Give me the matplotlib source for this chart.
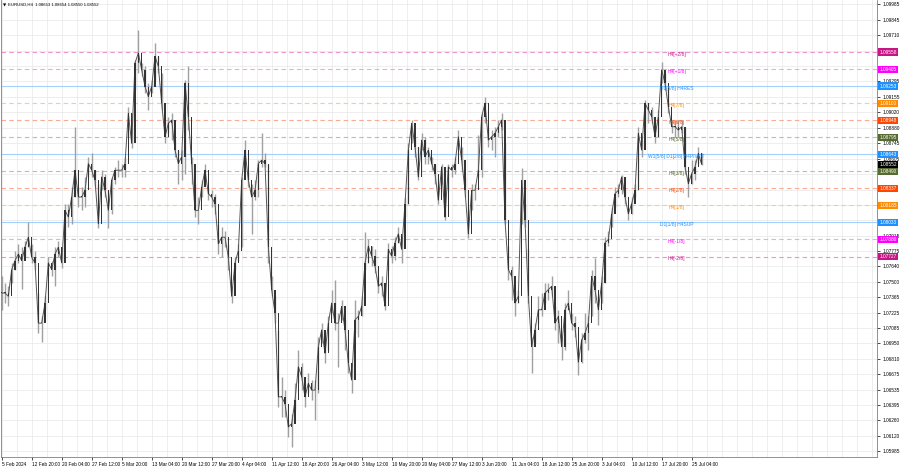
import numpy as np
import matplotlib
matplotlib.use("Agg")
import matplotlib.pyplot as plt
import matplotlib.transforms as mtransforms

plt.rcParams['font.family'] = ['Liberation Sans', 'DejaVu Sans']

# EURUSD H4 (one drawn candle ~ 3.5 H4 bars)
close = [
    1.0740, 1.0740, 1.0737, 1.0761, 1.0769, 1.0775, 1.0769, 1.0781, 1.0790, 1.0772,
    1.0767, 1.0713, 1.0713, 1.0731, 1.0767, 1.0761, 1.0775, 1.0781, 1.0767, 1.0814,
    1.0808, 1.0826, 1.0850, 1.0826, 1.0826, 1.0832, 1.0856, 1.0850, 1.0841, 1.0802,
    1.0844, 1.0832, 1.0814, 1.0841, 1.0850, 1.0850, 1.0850, 1.0856, 1.0901, 1.0874,
    1.0946, 1.0955, 1.0940, 1.0925, 1.0916, 1.0925, 1.0952, 1.0943, 1.0910, 1.0880,
    1.0892, 1.0895, 1.0868, 1.0856, 1.0862, 1.0928, 1.0898, 1.0856, 1.0814, 1.0814,
    1.0835, 1.0850, 1.0829, 1.0826, 1.0820, 1.0784, 1.0790, 1.0790, 1.0772, 1.0737,
    1.0767, 1.0778, 1.0841, 1.0868, 1.0841, 1.0826, 1.0832, 1.0856, 1.0859, 1.0856,
    1.0781, 1.0743, 1.0722, 1.0647, 1.0647, 1.0641, 1.0620, 1.0623, 1.0644, 1.0674,
    1.0665, 1.0647, 1.0659, 1.0653, 1.0653, 1.0692, 1.0707, 1.0686, 1.0713, 1.0731,
    1.0713, 1.0713, 1.0728, 1.0707, 1.0677, 1.0662, 1.0716, 1.0719, 1.0728,
    1.0767, 1.0782, 1.0773, 1.0764, 1.0746, 1.0749, 1.0728, 1.0779, 1.0773, 1.0785,
    1.0793, 1.0779, 1.0820, 1.0868, 1.0892, 1.0871, 1.0844, 1.0877, 1.0862, 1.0868,
    1.0856, 1.0847, 1.0823, 1.0853, 1.0808, 1.0853, 1.0850, 1.0856, 1.0880, 1.0859,
    1.0832, 1.0793, 1.0832, 1.0832, 1.0850, 1.0898, 1.0910, 1.0877, 1.0880, 1.0883,
    1.0889, 1.0895, 1.0805, 1.0761, 1.0755, 1.0731, 1.0737, 1.0841, 1.0805, 1.0737,
    1.0692, 1.0707, 1.0725, 1.0725, 1.0740, 1.0743, 1.0746, 1.0713, 1.0719, 1.0692,
    1.0725, 1.0731, 1.0713, 1.0710, 1.0678, 1.0698, 1.0704, 1.0713, 1.0755, 1.0743,
    1.0725, 1.0749, 1.0785, 1.0788, 1.0811, 1.0829, 1.0832, 1.0844, 1.0826, 1.0811,
    1.0820, 1.0832, 1.0883, 1.0868, 1.0910, 1.0904, 1.0898, 1.0880, 1.0898, 1.0940,
    1.0928, 1.0907, 1.0889, 1.0889, 1.0886, 1.0889, 1.0853, 1.0838, 1.0847, 1.0853,
    1.0865, 1.08552,
]
high = [
    1.0755, 1.0749, 1.0746, 1.0767, 1.0778, 1.0784, 1.0781, 1.0787, 1.0804, 1.0784,
    1.0778, 1.0740, 1.0719, 1.0737, 1.0772, 1.0769, 1.0781, 1.0787, 1.0781, 1.0820,
    1.0820, 1.0835, 1.0889, 1.0835, 1.0835, 1.0844, 1.0862, 1.0865, 1.0850, 1.0838,
    1.0850, 1.0847, 1.0823, 1.0844, 1.0853, 1.0859, 1.0856, 1.0862, 1.0907, 1.0901,
    1.0949, 1.0976, 1.0946, 1.0943, 1.0928, 1.0931, 1.0964, 1.0952, 1.0937, 1.0895,
    1.0898, 1.0901, 1.0877, 1.0868, 1.0868, 1.0931, 1.0943, 1.0862, 1.0838, 1.0826,
    1.0841, 1.0856, 1.0835, 1.0832, 1.0829, 1.0802, 1.0799, 1.0796, 1.0784, 1.0746,
    1.0772, 1.0784, 1.0844, 1.0877, 1.0850, 1.0838, 1.0841, 1.0859, 1.0883, 1.0865,
    1.0856, 1.0755, 1.0737, 1.0707, 1.0665, 1.0653, 1.0626, 1.0632, 1.0659, 1.0689,
    1.0677, 1.0659, 1.0668, 1.0662, 1.0662, 1.0701, 1.0713, 1.0698, 1.0719, 1.0743,
    1.0752, 1.0722, 1.0734, 1.0716, 1.0689, 1.0677, 1.0734, 1.0725, 1.0737,
    1.0795, 1.0788, 1.0782, 1.0779, 1.0755, 1.0755, 1.0749, 1.0785, 1.0782, 1.0790,
    1.0799, 1.0790, 1.0826, 1.0874, 1.0895, 1.0880, 1.0871, 1.0883, 1.0880, 1.0871,
    1.0862, 1.0856, 1.0838, 1.0856, 1.0823, 1.0856, 1.0856, 1.0862, 1.0886, 1.0871,
    1.0844, 1.0814, 1.0838, 1.0838, 1.0882, 1.0901, 1.0916, 1.0889, 1.0886, 1.0889,
    1.0895, 1.0901, 1.0874, 1.0782, 1.0764, 1.0743, 1.0743, 1.0852, 1.0820, 1.0779,
    1.0701, 1.0713, 1.0737, 1.0740, 1.0749, 1.0749, 1.0755, 1.0728, 1.0725, 1.0701,
    1.0731, 1.0743, 1.0722, 1.0719, 1.0692, 1.0704, 1.0722, 1.0719, 1.0761, 1.0771,
    1.0737, 1.0755, 1.0790, 1.0796, 1.0817, 1.0835, 1.0838, 1.0846, 1.0832, 1.0817,
    1.0826, 1.0838, 1.0889, 1.0877, 1.0913, 1.0910, 1.0907, 1.0892, 1.0904, 1.0947,
    1.0937, 1.0925, 1.0895, 1.0895, 1.0895, 1.0895, 1.0889, 1.0847, 1.0859, 1.0859,
    1.0871, 1.08654,
]
low = [
    1.0725, 1.0731, 1.0728, 1.0749, 1.0761, 1.0767, 1.0744, 1.0772, 1.0781, 1.0767,
    1.0761, 1.0704, 1.0696, 1.0725, 1.0755, 1.0755, 1.0746, 1.0772, 1.0762, 1.0790,
    1.0799, 1.0802, 1.0826, 1.0817, 1.0814, 1.0817, 1.0844, 1.0844, 1.0835, 1.0798,
    1.0832, 1.0826, 1.0798, 1.0811, 1.0838, 1.0844, 1.0844, 1.0844, 1.0880, 1.0870,
    1.0922, 1.0937, 1.0934, 1.0919, 1.0904, 1.0919, 1.0931, 1.0937, 1.0904, 1.0874,
    1.0883, 1.0877, 1.0862, 1.0838, 1.0841, 1.0847, 1.0886, 1.0838, 1.0808, 1.0802,
    1.0826, 1.0838, 1.0823, 1.0817, 1.0811, 1.0775, 1.0772, 1.0781, 1.0761, 1.0731,
    1.0761, 1.0769, 1.0781, 1.0850, 1.0835, 1.0793, 1.0823, 1.0826, 1.0853, 1.0853,
    1.0767, 1.0737, 1.0713, 1.0638, 1.0629, 1.0629, 1.0611, 1.0602, 1.0635, 1.0659,
    1.0653, 1.0638, 1.0650, 1.0644, 1.0626, 1.0650, 1.0695, 1.0677, 1.0689, 1.0722,
    1.0707, 1.0674, 1.0716, 1.0689, 1.0668, 1.0650, 1.0704, 1.0701, 1.0719,
    1.0761, 1.0767, 1.0764, 1.0758, 1.0740, 1.0737, 1.0725, 1.0761, 1.0767, 1.0770,
    1.0785, 1.0767, 1.0808, 1.0820, 1.0874, 1.0862, 1.0841, 1.0868, 1.0856, 1.0856,
    1.0850, 1.0838, 1.0820, 1.0838, 1.0805, 1.0832, 1.0844, 1.0847, 1.0868, 1.0850,
    1.0826, 1.0789, 1.0814, 1.0823, 1.0844, 1.0844, 1.0892, 1.0871, 1.0868, 1.0862,
    1.0880, 1.0886, 1.0802, 1.0752, 1.0734, 1.0719, 1.0731, 1.0802, 1.0799, 1.0731,
    1.0668, 1.0695, 1.0713, 1.0719, 1.0731, 1.0734, 1.0737, 1.0707, 1.0695, 1.0680,
    1.0689, 1.0725, 1.0707, 1.0701, 1.0667, 1.0677, 1.0695, 1.0689, 1.0719, 1.0731,
    1.0711, 1.0731, 1.0749, 1.0782, 1.0799, 1.0817, 1.0826, 1.0829, 1.0820, 1.0805,
    1.0811, 1.0826, 1.0832, 1.0862, 1.0889, 1.0892, 1.0892, 1.0874, 1.0880, 1.0928,
    1.0922, 1.0901, 1.0883, 1.0880, 1.0880, 1.0883, 1.0847, 1.0826, 1.0838, 1.0841,
    1.0856, 1.08550,
]

date_labels = ["5 Feb 2024", "12 Feb 20:00", "20 Feb 04:00", "27 Feb 12:00", "5 Mar 20:00",
               "13 Mar 04:00", "20 Mar 12:00", "27 Mar 20:00", "4 Apr 04:00", "11 Apr 12:00",
               "18 Apr 20:00", "26 Apr 04:00", "3 May 12:00", "10 May 20:00", "20 May 04:00",
               "27 May 12:00", "3 Jun 20:00", "11 Jun 04:00", "18 Jun 12:00", "25 Jun 20:00",
               "3 Jul 04:00", "10 Jul 12:00", "17 Jul 20:00", "25 Jul 04:00"]

price_labels = ["1.09985", "1.09845", "1.09710", "1.09570", "1.09435", "1.09295", "1.09155",
                "1.09020", "1.08880", "1.08745", "1.08605", "1.08465", "1.08325", "1.08190",
                "1.08050", "1.07915", "1.07775", "1.07640", "1.07500", "1.07365", "1.07225",
                "1.07085", "1.06950", "1.06810", "1.06675", "1.06535", "1.06395", "1.06260",
                "1.06120", "1.05985"]

# murrey math levels: name, price, line colour, tag colour, dashed?
level_names = ["H4[+2/8]", "H4[+1/8]", "D1[5/8] H4RES", "H4[7/8]", "H4[6/8]", "H4[5/8]",
               "W1[5/8] D1[2/8] H4PIVOT", "H4[3/8]", "H4[2/8]", "H4[1/8]", "D1[1/8] H4SUP",
               "H4[-1/8]", "H4[-2/8]"]
level_prices = [1.09558, 1.09405, 1.09253, 1.09100, 1.08948, 1.08795, 1.08643,
                1.08490, 1.08337, 1.08185, 1.08033, 1.07880, 1.07727]
level_tag_colors = ["#c71585", "#ff00ff", "#1e90ff", "#ff8c00", "#ff4500", "#556b2f", "#1e90ff",
                    "#556b2f", "#ff4500", "#ff8c00", "#1e90ff", "#ff00ff", "#c71585"]
level_line_colors = ["#e996cf", "#f6a0f6", "#a3d0ff", "#fcc996", "#f9ab95", "#bdbdab", "#a3d0ff",
                     "#bdbdab", "#f9ab95", "#fcc996", "#a3d0ff", "#f6a0f6", "#e996cf"]
level_dashed = [True, True, False, True, True, True, False, True, True, True, False, True, True]

last_price = 1.08552
header = "EURUSD,H4  1.08653 1.08654 1.08550 1.08552"

fig = plt.figure(figsize=(9, 4.68), dpi=100)
ax = fig.add_axes([1 / 900, 11 / 468, 876 / 900, 457 / 468])

n = len(close)
idx = np.arange(n)
opens = [close[0]] + close[:-1]

# grid
ytick_vals = [float(s) for s in price_labels]
xtick_pos = 0.2 + 9 * np.arange(len(date_labels))
for y in ytick_vals:
    ax.axhline(y, color="#e8e8e8", lw=0.5, zorder=0)
for x in np.arange(0.2, 263, 4.5):
    ax.axvline(x, color="#e8e8e8", lw=0.5, zorder=0)

# levels
for name, p, lc, tc, d in zip(level_names, level_prices, level_line_colors,
                              level_tag_colors, level_dashed):
    ax.axhline(p, color=lc, lw=0.8, ls=(0, (4, 3)) if d else "-", zorder=1)
    ax.text(202.5, p - 0.00018, name, color=tc, fontsize=3.5, ha="center", va="center", zorder=4)

# candles: grey wicks, thin dark bodies, closes joined so it reads like the dense H4 band
ax.vlines(idx, low, high, color="#a0a0a0", lw=1.0, zorder=2)
ax.plot(idx, close, color="#555555", lw=0.7, zorder=2.5)
body_bot = np.minimum(opens, close)
body_h = np.maximum(np.abs(np.array(close) - np.array(opens)), 0.00005)
ax.bar(idx, body_h, bottom=body_bot, width=0.45, color="#333333", lw=0, zorder=3)

ax.set_xlim(-0.2, 262.6)
ax.set_ylim(1.05931, 1.10025)

# tick labels that sit under a price tag are not shown
tag_prices = level_prices + [last_price]
shown = [s if min(abs(v - t) for t in tag_prices) > 0.00032 else ""
         for s, v in zip(price_labels, ytick_vals)]

ax.yaxis.tick_right()
ax.set_yticks(ytick_vals)
ax.set_yticklabels(shown, fontsize=3.4)
ax.set_xticks(xtick_pos)
ax.set_xticklabels(date_labels, fontsize=3.4, ha="left")
ax.tick_params(axis="both", length=2, width=0.5, pad=1.5, colors="#000000")
ax.tick_params(axis="y", pad=2)
for s in ["left", "right", "bottom"]:
    ax.spines[s].set_color("#808080")
    ax.spines[s].set_linewidth(0.6)
ax.spines["top"].set_visible(False)

# price tags on the right axis
trans = mtransforms.blended_transform_factory(ax.transAxes, ax.transData)
for p, tc in zip(level_prices, level_tag_colors):
    ax.text(1.003, p, "%.5f" % p, transform=trans, fontsize=3.4, color="white", ha="left",
            va="center", clip_on=False, zorder=10,
            bbox=dict(boxstyle="square,pad=0.25", fc=tc, ec="none"))
ax.text(1.003, last_price, "%.5f" % last_price, transform=trans, fontsize=3.4, color="white",
        ha="left", va="center", clip_on=False, zorder=11,
        bbox=dict(boxstyle="square,pad=0.25", fc="black", ec="none"))

# header
ax.text(0.002, 0.989, "\u25bc", transform=ax.transAxes, fontsize=3, ha="left", va="center",
        family="DejaVu Sans")
ax.text(0.008, 0.989, header, transform=ax.transAxes, fontsize=3.1, ha="left", va="center")

fig.savefig("out.png", dpi=100)
